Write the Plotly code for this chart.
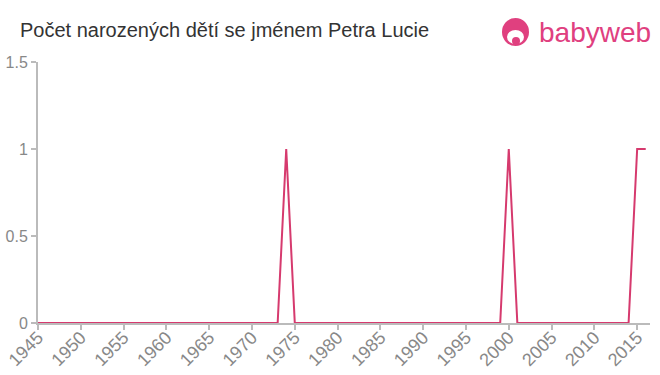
import plotly.graph_objects as go

years = list(range(1945, 2017))
ones = {1974, 2000, 2015, 2016}
counts = [1 if y in ones else 0 for y in years]

title_text = "Počet narozených dětí se jménem Petra Lucie"
x_ticks = list(range(1945, 2016, 5))
y_ticks = [0, 0.5, 1, 1.5]
y_tick_labels = ["0", "0.5", "1", "1.5"]

L, R, T, B = 38, 10, 62, 52
W, H = 660, 375
pw, ph = W - L - R, H - T - B

def px(x):
    return (x - L) / pw

def py(y):
    return (H - B - y) / ph

fig = go.Figure()
fig.add_trace(go.Scatter(
    x=years, y=counts, mode="lines",
    line=dict(color="#d63a6e", width=2),
    hoverinfo="x+y", showlegend=False,
))

pink = "#e0407f"
fig.add_shape(type="circle", xref="paper", yref="paper",
              x0=px(502), x1=px(529), y0=py(46), y1=py(18),
              fillcolor=pink, line=dict(width=0))
fig.add_shape(type="circle", xref="paper", yref="paper",
              x0=px(507), x1=px(524), y0=py(44), y1=py(30),
              fillcolor="white", line=dict(width=0))
fig.add_shape(type="circle", xref="paper", yref="paper",
              x0=px(512), x1=px(520), y0=py(45), y1=py(37),
              fillcolor=pink, line=dict(width=0))
fig.add_annotation(text="babyweb", xref="paper", yref="paper",
                   x=px(537), y=py(33), xanchor="left", yanchor="middle",
                   showarrow=False,
                   font=dict(family="Liberation Sans, Arial", size=28, color=pink))

fig.update_layout(
    width=W, height=H,
    margin=dict(l=L, r=R, t=T, b=B),
    paper_bgcolor="white", plot_bgcolor="white",
    title=dict(text=title_text, x=20 / W, xref="container", xanchor="left",
               y=1 - 30 / H, yref="container", yanchor="middle",
               font=dict(family="Liberation Sans, Arial", size=20, color="#333333")),
    xaxis=dict(range=[1945, 2016.5], tickvals=x_ticks, tickangle=-45,
               automargin=False, ticklabelstandoff=-10,
               showgrid=False, zeroline=False, showline=True,
               linecolor="#bbbbbb", linewidth=2,
               ticks="outside", ticklen=5, tickcolor="#bbbbbb", tickwidth=2,
               tickfont=dict(family="Liberation Sans, Arial", size=18, color="#888888")),
    yaxis=dict(range=[0, 1.5], tickvals=y_ticks, ticktext=y_tick_labels,
               automargin=False,
               showgrid=False, zeroline=False, showline=True,
               linecolor="#bbbbbb", linewidth=2,
               ticks="outside", ticklen=5, tickcolor="#bbbbbb", tickwidth=2,
               tickfont=dict(family="Liberation Sans, Arial", size=16, color="#888888")),
)

fig.write_html("out.html")
